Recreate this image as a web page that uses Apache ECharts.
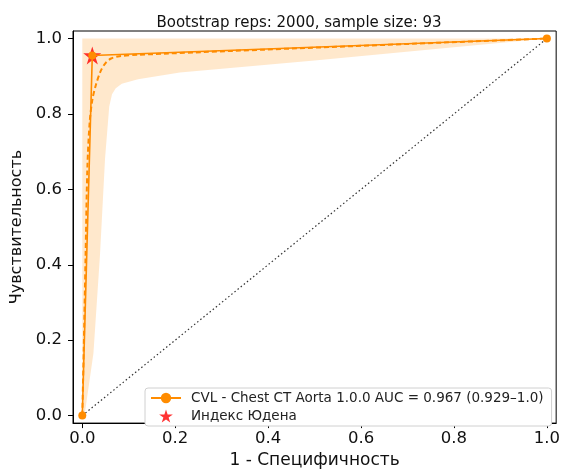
<!DOCTYPE html>
<html>
<head>
<meta charset="utf-8">
<script src="https://cdn.jsdelivr.net/npm/echarts@6/dist/echarts.min.js"></script>
<style>
  html, body { margin: 0; padding: 0; background: #fff; }
  #roc { width: 563px; height: 474px; }
</style>
</head>
<body>
<div id="roc"></div>
<script>
// tick positions
var tickValues = [0, 0.2, 0.4, 0.6, 0.8, 1.0];

// ROC curve (FPR, TPR)
var rocPoints = [[0, 0], [0.0215, 0.955], [1, 1]];
// youden index point
var youdenPoint = [[0.0215, 0.955]];
// mean bootstrap curve
var meanCurve = [
  [0, 0], [0.003, 0.17], [0.007, 0.42], [0.011, 0.66], [0.016, 0.78],
  [0.022, 0.84], [0.03, 0.88], [0.04, 0.915], [0.05, 0.935], [0.062, 0.947],
  [0.08, 0.953], [0.12, 0.957], [1, 1]
];
// confidence band
var bandUpper = [[0, 0], [0, 1], [1, 1]];
var bandLower = [
  [0, 0], [0.006, 0.01], [0.024, 0.165], [0.038, 0.424], [0.049, 0.682],
  [0.058, 0.82], [0.064, 0.852], [0.072, 0.868], [0.085, 0.88], [0.12, 0.892],
  [0.21, 0.91], [0.5, 0.942], [0.8, 0.977], [1, 1]
];
var diagonal = [[0, 0], [1, 1]];

var rocName = 'CVL - Chest CT Aorta 1.0.0 AUC = 0.967 (0.929\u20131.0)';
var youdenName = 'Индекс Юдена';

var starPath = 'path://M50,0 L61.8,36.2 L100,36.2 L69.1,58.8 L80.9,95.1 L50,72.7 L19.1,95.1 L30.9,58.8 L0,36.2 L38.2,36.2 Z';

var chart = echarts.init(document.getElementById('roc'));

var option = {
  animation: false,
  textStyle: { fontFamily: 'DejaVu Sans' },
  title: {
    text: 'Bootstrap reps: 2000, sample size: 93',
    left: 294,
    top: 11,
    textAlign: 'center',
    textStyle: { fontSize: 15, fontWeight: 'normal', color: '#111', fontFamily: 'DejaVu Sans' }
  },
  grid: {
    left: 73, right: 4, top: 31, bottom: 43,
    show: true, borderColor: '#000', borderWidth: 1
  },
  legend: {
    orient: 'vertical',
    left: 145,
    top: 388,
    padding: [3, 8, 3, 5],
    itemGap: 4,
    itemWidth: 30,
    itemHeight: 13,
    backgroundColor: '#fff',
    borderColor: '#d0d0d0',
    borderWidth: 1,
    borderRadius: 3,
    textStyle: { fontSize: 13.5, color: '#222', fontFamily: 'DejaVu Sans', padding: [0, 0, 0, 5] },
    data: [rocName, youdenName]
  },
  xAxis: {
    type: 'value',
    min: -0.02, max: 1.02,
    name: '1 - Специфичность',
    nameLocation: 'middle',
    nameGap: 27,
    nameTextStyle: { fontSize: 17, color: '#111', fontFamily: 'DejaVu Sans' },
    axisLine: { show: true, onZero: false, lineStyle: { color: '#000' } },
    axisTick: { show: true, length: 5, customValues: tickValues, lineStyle: { color: '#000' } },
    axisLabel: {
      customValues: tickValues, fontSize: 16.5, color: '#111', margin: 7,
      formatter: function (v) { return v.toFixed(1); }
    },
    splitLine: { show: false }
  },
  yAxis: {
    type: 'value',
    min: -0.02, max: 1.02,
    name: 'Чувствительность',
    nameLocation: 'middle',
    nameGap: 47,
    nameTextStyle: { fontSize: 16, color: '#111', fontFamily: 'DejaVu Sans' },
    axisLine: { show: true, onZero: false, lineStyle: { color: '#000' } },
    axisTick: { show: true, length: 5, customValues: tickValues, lineStyle: { color: '#000' } },
    axisLabel: {
      customValues: tickValues, fontSize: 16.5, color: '#111', margin: 11,
      formatter: function (v) { return v.toFixed(1); }
    },
    splitLine: { show: false }
  },
  series: [
    {
      // confidence band as polygon
      type: 'custom',
      silent: true,
      z: 1,
      data: [0],
      renderItem: function (params, api) {
        var pts = [];
        bandUpper.forEach(function (p) { pts.push(api.coord(p)); });
        bandLower.slice().reverse().forEach(function (p) { pts.push(api.coord(p)); });
        return {
          type: 'polygon',
          shape: { points: pts },
          style: { fill: 'rgba(255,140,0,0.2)', stroke: null }
        };
      }
    },
    {
      type: 'line',
      data: diagonal,
      symbol: 'none',
      silent: true,
      z: 2,
      lineStyle: { color: '#333', width: 1.2, type: [1.5, 2.5] }
    },
    {
      type: 'line',
      data: meanCurve,
      symbol: 'none',
      smooth: 0.3,
      silent: true,
      z: 3,
      lineStyle: { color: '#ff8c00', width: 2, type: [5, 3] }
    },
    {
      name: youdenName,
      type: 'scatter',
      data: youdenPoint,
      symbol: starPath,
      symbolSize: 18,
      z: 4,
      itemStyle: { color: '#ff0000' }
    },
    {
      name: rocName,
      type: 'line',
      data: rocPoints,
      symbol: 'circle',
      symbolSize: 8,
      showAllSymbol: true,
      z: 5,
      itemStyle: { color: '#ff8c00' },
      lineStyle: { color: '#ff8c00', width: 1.6 }
    }
  ]
};

chart.setOption(option);
</script>
</body>
</html>
